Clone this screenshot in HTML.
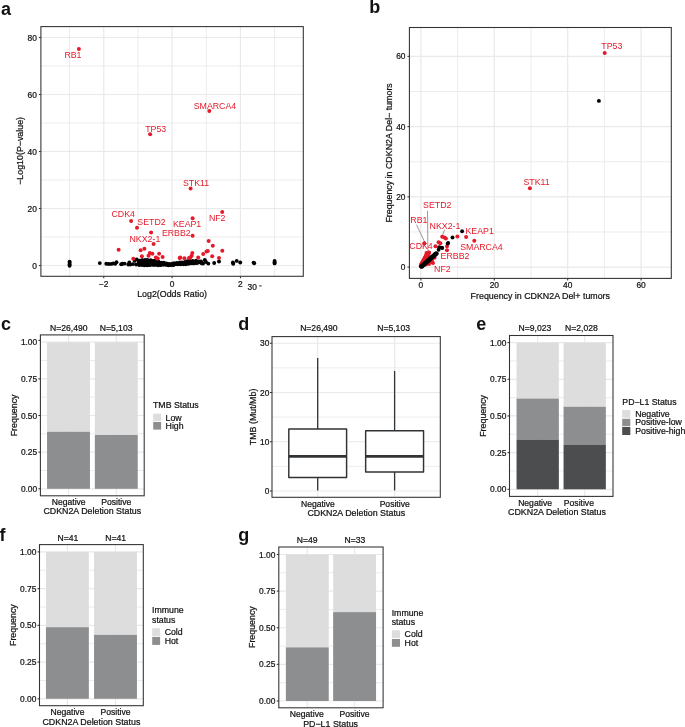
<!DOCTYPE html>
<html><head><meta charset="utf-8"><style>
html,body{margin:0;padding:0;background:#fff;}
svg{display:block;will-change:transform;}
text{font-family:"Liberation Sans",sans-serif;stroke-width:0.22px;paint-order:stroke;}
</style></head><body>
<svg width="685" height="727" viewBox="0 0 685 727">
<defs></defs>
<rect x="0" y="0" width="685" height="727" fill="#fff"/>
<text x="1.00" y="14.50" font-weight="bold" font-size="18" fill="#111">a</text>
<line x1="69.59" y1="26.60" x2="69.59" y2="276.30" stroke="#E9E9E9" stroke-width="0.85"/>
<line x1="137.93" y1="26.60" x2="137.93" y2="276.30" stroke="#E9E9E9" stroke-width="0.85"/>
<line x1="206.27" y1="26.60" x2="206.27" y2="276.30" stroke="#E9E9E9" stroke-width="0.85"/>
<line x1="274.61" y1="26.60" x2="274.61" y2="276.30" stroke="#E9E9E9" stroke-width="0.85"/>
<line x1="40.90" y1="237.00" x2="303.30" y2="237.00" stroke="#E9E9E9" stroke-width="0.85"/>
<line x1="40.90" y1="180.00" x2="303.30" y2="180.00" stroke="#E9E9E9" stroke-width="0.85"/>
<line x1="40.90" y1="123.00" x2="303.30" y2="123.00" stroke="#E9E9E9" stroke-width="0.85"/>
<line x1="40.90" y1="66.00" x2="303.30" y2="66.00" stroke="#E9E9E9" stroke-width="0.85"/>
<line x1="103.76" y1="26.60" x2="103.76" y2="276.30" stroke="#E9E9E9" stroke-width="1.2"/>
<line x1="172.10" y1="26.60" x2="172.10" y2="276.30" stroke="#E9E9E9" stroke-width="1.2"/>
<line x1="240.44" y1="26.60" x2="240.44" y2="276.30" stroke="#E9E9E9" stroke-width="1.2"/>
<line x1="40.90" y1="265.50" x2="303.30" y2="265.50" stroke="#E9E9E9" stroke-width="1.2"/>
<line x1="40.90" y1="208.50" x2="303.30" y2="208.50" stroke="#E9E9E9" stroke-width="1.2"/>
<line x1="40.90" y1="151.50" x2="303.30" y2="151.50" stroke="#E9E9E9" stroke-width="1.2"/>
<line x1="40.90" y1="94.50" x2="303.30" y2="94.50" stroke="#E9E9E9" stroke-width="1.2"/>
<line x1="40.90" y1="37.50" x2="303.30" y2="37.50" stroke="#E9E9E9" stroke-width="1.2"/>
<circle cx="69.60" cy="261.60" r="1.95" fill="#000"/>
<circle cx="69.60" cy="263.00" r="1.95" fill="#000"/>
<circle cx="69.60" cy="264.40" r="1.95" fill="#000"/>
<circle cx="69.60" cy="265.80" r="1.95" fill="#000"/>
<circle cx="274.60" cy="261.00" r="1.95" fill="#000"/>
<circle cx="274.60" cy="262.30" r="1.95" fill="#000"/>
<circle cx="274.60" cy="263.40" r="1.95" fill="#000"/>
<circle cx="99.80" cy="263.10" r="1.95" fill="#000"/>
<circle cx="106.30" cy="263.70" r="1.95" fill="#000"/>
<circle cx="108.80" cy="264.00" r="1.95" fill="#000"/>
<circle cx="111.30" cy="263.90" r="1.95" fill="#000"/>
<circle cx="113.40" cy="263.40" r="1.95" fill="#000"/>
<circle cx="204.80" cy="259.90" r="1.95" fill="#000"/>
<circle cx="206.00" cy="262.00" r="1.95" fill="#000"/>
<circle cx="208.30" cy="263.60" r="1.95" fill="#000"/>
<circle cx="214.20" cy="263.00" r="1.95" fill="#000"/>
<circle cx="219.00" cy="261.50" r="1.95" fill="#000"/>
<circle cx="232.90" cy="262.50" r="1.95" fill="#000"/>
<circle cx="233.20" cy="263.70" r="1.95" fill="#000"/>
<circle cx="236.70" cy="260.90" r="1.95" fill="#000"/>
<circle cx="240.20" cy="262.50" r="1.95" fill="#000"/>
<circle cx="253.60" cy="262.60" r="1.95" fill="#000"/>
<circle cx="254.20" cy="263.20" r="1.95" fill="#000"/>
<circle cx="138.89" cy="261.64" r="1.95" fill="#000"/>
<circle cx="139.09" cy="262.79" r="1.95" fill="#000"/>
<circle cx="139.02" cy="264.17" r="1.95" fill="#000"/>
<circle cx="139.83" cy="261.25" r="1.95" fill="#000"/>
<circle cx="139.82" cy="262.76" r="1.95" fill="#000"/>
<circle cx="139.84" cy="264.11" r="1.95" fill="#000"/>
<circle cx="141.15" cy="260.96" r="1.95" fill="#000"/>
<circle cx="140.97" cy="261.82" r="1.95" fill="#000"/>
<circle cx="141.28" cy="263.49" r="1.95" fill="#000"/>
<circle cx="141.25" cy="264.39" r="1.95" fill="#000"/>
<circle cx="142.59" cy="260.54" r="1.95" fill="#000"/>
<circle cx="142.52" cy="261.90" r="1.95" fill="#000"/>
<circle cx="142.09" cy="263.01" r="1.95" fill="#000"/>
<circle cx="142.19" cy="264.64" r="1.95" fill="#000"/>
<circle cx="143.21" cy="260.91" r="1.95" fill="#000"/>
<circle cx="143.48" cy="261.98" r="1.95" fill="#000"/>
<circle cx="143.43" cy="262.99" r="1.95" fill="#000"/>
<circle cx="143.14" cy="264.27" r="1.95" fill="#000"/>
<circle cx="144.61" cy="260.86" r="1.95" fill="#000"/>
<circle cx="144.39" cy="262.14" r="1.95" fill="#000"/>
<circle cx="144.47" cy="263.15" r="1.95" fill="#000"/>
<circle cx="144.68" cy="264.57" r="1.95" fill="#000"/>
<circle cx="145.45" cy="261.00" r="1.95" fill="#000"/>
<circle cx="145.62" cy="262.93" r="1.95" fill="#000"/>
<circle cx="145.74" cy="264.32" r="1.95" fill="#000"/>
<circle cx="146.99" cy="260.77" r="1.95" fill="#000"/>
<circle cx="146.65" cy="262.88" r="1.95" fill="#000"/>
<circle cx="146.49" cy="264.44" r="1.95" fill="#000"/>
<circle cx="147.52" cy="261.15" r="1.95" fill="#000"/>
<circle cx="147.96" cy="262.79" r="1.95" fill="#000"/>
<circle cx="148.03" cy="264.34" r="1.95" fill="#000"/>
<circle cx="149.02" cy="261.16" r="1.95" fill="#000"/>
<circle cx="148.95" cy="262.75" r="1.95" fill="#000"/>
<circle cx="149.10" cy="264.72" r="1.95" fill="#000"/>
<circle cx="149.98" cy="261.25" r="1.95" fill="#000"/>
<circle cx="149.74" cy="262.92" r="1.95" fill="#000"/>
<circle cx="150.09" cy="264.75" r="1.95" fill="#000"/>
<circle cx="151.29" cy="261.26" r="1.95" fill="#000"/>
<circle cx="151.03" cy="263.01" r="1.95" fill="#000"/>
<circle cx="150.81" cy="264.41" r="1.95" fill="#000"/>
<circle cx="152.00" cy="261.40" r="1.95" fill="#000"/>
<circle cx="151.94" cy="263.18" r="1.95" fill="#000"/>
<circle cx="151.98" cy="264.25" r="1.95" fill="#000"/>
<circle cx="153.23" cy="262.10" r="1.95" fill="#000"/>
<circle cx="153.05" cy="263.10" r="1.95" fill="#000"/>
<circle cx="153.33" cy="264.61" r="1.95" fill="#000"/>
<circle cx="154.59" cy="262.34" r="1.95" fill="#000"/>
<circle cx="154.27" cy="263.19" r="1.95" fill="#000"/>
<circle cx="154.32" cy="264.59" r="1.95" fill="#000"/>
<circle cx="155.77" cy="262.14" r="1.95" fill="#000"/>
<circle cx="155.31" cy="264.18" r="1.95" fill="#000"/>
<circle cx="156.44" cy="262.56" r="1.95" fill="#000"/>
<circle cx="156.65" cy="264.18" r="1.95" fill="#000"/>
<circle cx="157.40" cy="262.74" r="1.95" fill="#000"/>
<circle cx="157.62" cy="264.34" r="1.95" fill="#000"/>
<circle cx="159.07" cy="263.12" r="1.95" fill="#000"/>
<circle cx="158.81" cy="264.34" r="1.95" fill="#000"/>
<circle cx="160.01" cy="262.96" r="1.95" fill="#000"/>
<circle cx="160.14" cy="264.42" r="1.95" fill="#000"/>
<circle cx="161.22" cy="263.63" r="1.95" fill="#000"/>
<circle cx="160.94" cy="264.17" r="1.95" fill="#000"/>
<circle cx="161.86" cy="264.02" r="1.95" fill="#000"/>
<circle cx="162.94" cy="263.78" r="1.95" fill="#000"/>
<circle cx="164.13" cy="263.93" r="1.95" fill="#000"/>
<circle cx="165.30" cy="264.06" r="1.95" fill="#000"/>
<circle cx="166.20" cy="264.34" r="1.95" fill="#000"/>
<circle cx="167.36" cy="264.69" r="1.95" fill="#000"/>
<circle cx="168.42" cy="265.21" r="1.95" fill="#000"/>
<circle cx="169.87" cy="265.00" r="1.95" fill="#000"/>
<circle cx="170.75" cy="265.00" r="1.95" fill="#000"/>
<circle cx="171.92" cy="264.66" r="1.95" fill="#000"/>
<circle cx="173.31" cy="264.99" r="1.95" fill="#000"/>
<circle cx="174.18" cy="264.48" r="1.95" fill="#000"/>
<circle cx="175.05" cy="264.05" r="1.95" fill="#000"/>
<circle cx="176.31" cy="263.93" r="1.95" fill="#000"/>
<circle cx="177.70" cy="263.65" r="1.95" fill="#000"/>
<circle cx="178.31" cy="263.90" r="1.95" fill="#000"/>
<circle cx="179.72" cy="263.20" r="1.95" fill="#000"/>
<circle cx="180.83" cy="263.01" r="1.95" fill="#000"/>
<circle cx="181.92" cy="263.50" r="1.95" fill="#000"/>
<circle cx="183.22" cy="263.26" r="1.95" fill="#000"/>
<circle cx="183.96" cy="262.98" r="1.95" fill="#000"/>
<circle cx="185.00" cy="263.15" r="1.95" fill="#000"/>
<circle cx="186.32" cy="263.06" r="1.95" fill="#000"/>
<circle cx="187.30" cy="262.64" r="1.95" fill="#000"/>
<circle cx="188.69" cy="263.01" r="1.95" fill="#000"/>
<circle cx="189.81" cy="262.82" r="1.95" fill="#000"/>
<circle cx="190.89" cy="262.67" r="1.95" fill="#000"/>
<circle cx="191.64" cy="262.43" r="1.95" fill="#000"/>
<circle cx="192.81" cy="262.03" r="1.95" fill="#000"/>
<circle cx="193.72" cy="262.07" r="1.95" fill="#000"/>
<circle cx="194.96" cy="262.22" r="1.95" fill="#000"/>
<circle cx="196.47" cy="262.07" r="1.95" fill="#000"/>
<circle cx="197.56" cy="262.39" r="1.95" fill="#000"/>
<circle cx="198.67" cy="262.04" r="1.95" fill="#000"/>
<circle cx="199.33" cy="262.05" r="1.95" fill="#000"/>
<circle cx="200.42" cy="262.35" r="1.95" fill="#000"/>
<circle cx="201.77" cy="263.28" r="1.95" fill="#000"/>
<circle cx="203.00" cy="263.54" r="1.95" fill="#000"/>
<circle cx="139.65" cy="260.81" r="1.95" fill="#000"/>
<circle cx="141.95" cy="260.11" r="1.95" fill="#000"/>
<circle cx="145.02" cy="259.90" r="1.95" fill="#000"/>
<circle cx="147.43" cy="259.89" r="1.95" fill="#000"/>
<circle cx="150.62" cy="260.10" r="1.95" fill="#000"/>
<circle cx="153.19" cy="260.93" r="1.95" fill="#000"/>
<circle cx="154.74" cy="260.99" r="1.95" fill="#000"/>
<circle cx="158.53" cy="261.61" r="1.95" fill="#000"/>
<circle cx="161.73" cy="262.63" r="1.95" fill="#000"/>
<circle cx="163.85" cy="262.71" r="1.95" fill="#000"/>
<circle cx="166.48" cy="263.57" r="1.95" fill="#000"/>
<circle cx="169.17" cy="263.95" r="1.95" fill="#000"/>
<circle cx="172.14" cy="263.69" r="1.95" fill="#000"/>
<circle cx="174.06" cy="263.27" r="1.95" fill="#000"/>
<circle cx="176.81" cy="262.88" r="1.95" fill="#000"/>
<circle cx="179.79" cy="262.36" r="1.95" fill="#000"/>
<circle cx="182.12" cy="262.47" r="1.95" fill="#000"/>
<circle cx="185.08" cy="261.89" r="1.95" fill="#000"/>
<circle cx="187.42" cy="261.23" r="1.95" fill="#000"/>
<circle cx="189.72" cy="260.95" r="1.95" fill="#000"/>
<circle cx="192.70" cy="261.03" r="1.95" fill="#000"/>
<circle cx="196.01" cy="260.79" r="1.95" fill="#000"/>
<circle cx="198.73" cy="261.37" r="1.95" fill="#000"/>
<circle cx="201.04" cy="261.51" r="1.95" fill="#000"/>
<circle cx="139.27" cy="264.99" r="1.95" fill="#000"/>
<circle cx="142.02" cy="264.91" r="1.95" fill="#000"/>
<circle cx="144.52" cy="265.20" r="1.95" fill="#000"/>
<circle cx="147.31" cy="265.23" r="1.95" fill="#000"/>
<circle cx="149.83" cy="264.89" r="1.95" fill="#000"/>
<circle cx="153.13" cy="264.84" r="1.95" fill="#000"/>
<circle cx="155.27" cy="264.79" r="1.95" fill="#000"/>
<circle cx="157.89" cy="265.30" r="1.95" fill="#000"/>
<circle cx="160.46" cy="265.16" r="1.95" fill="#000"/>
<circle cx="163.33" cy="264.74" r="1.95" fill="#000"/>
<circle cx="165.92" cy="264.70" r="1.95" fill="#000"/>
<circle cx="168.76" cy="264.47" r="1.95" fill="#000"/>
<circle cx="172.01" cy="264.25" r="1.95" fill="#000"/>
<circle cx="174.87" cy="264.06" r="1.95" fill="#000"/>
<circle cx="177.58" cy="264.27" r="1.95" fill="#000"/>
<circle cx="180.47" cy="264.29" r="1.95" fill="#000"/>
<circle cx="183.38" cy="264.31" r="1.95" fill="#000"/>
<circle cx="185.85" cy="264.18" r="1.95" fill="#000"/>
<circle cx="188.56" cy="263.69" r="1.95" fill="#000"/>
<circle cx="191.19" cy="263.33" r="1.95" fill="#000"/>
<circle cx="193.48" cy="263.38" r="1.95" fill="#000"/>
<circle cx="196.39" cy="263.17" r="1.95" fill="#000"/>
<circle cx="198.37" cy="262.54" r="1.95" fill="#000"/>
<circle cx="201.22" cy="262.56" r="1.95" fill="#000"/>
<circle cx="115.20" cy="263.80" r="1.95" fill="#000"/>
<circle cx="116.50" cy="262.20" r="1.95" fill="#000"/>
<circle cx="121.20" cy="264.30" r="1.95" fill="#000"/>
<circle cx="122.50" cy="263.80" r="1.95" fill="#000"/>
<circle cx="124.60" cy="263.60" r="1.95" fill="#000"/>
<circle cx="128.30" cy="264.60" r="1.95" fill="#000"/>
<circle cx="129.30" cy="262.50" r="1.95" fill="#000"/>
<circle cx="130.40" cy="264.60" r="1.95" fill="#000"/>
<circle cx="133.00" cy="264.10" r="1.95" fill="#000"/>
<circle cx="134.60" cy="260.90" r="1.95" fill="#000"/>
<circle cx="136.70" cy="259.40" r="1.95" fill="#000"/>
<circle cx="136.20" cy="264.60" r="1.95" fill="#000"/>
<circle cx="138.30" cy="264.10" r="1.95" fill="#000"/>
<circle cx="78.90" cy="48.90" r="2.0" fill="#E41A2B"/>
<circle cx="150.10" cy="134.20" r="2.0" fill="#E41A2B"/>
<circle cx="209.30" cy="110.90" r="2.0" fill="#E41A2B"/>
<circle cx="190.60" cy="188.40" r="2.0" fill="#E41A2B"/>
<circle cx="131.10" cy="221.10" r="2.0" fill="#E41A2B"/>
<circle cx="137.00" cy="227.80" r="2.0" fill="#E41A2B"/>
<circle cx="151.10" cy="232.50" r="2.0" fill="#E41A2B"/>
<circle cx="153.60" cy="244.10" r="2.0" fill="#E41A2B"/>
<circle cx="192.60" cy="218.20" r="2.0" fill="#E41A2B"/>
<circle cx="192.60" cy="235.80" r="2.0" fill="#E41A2B"/>
<circle cx="222.20" cy="212.10" r="2.0" fill="#E41A2B"/>
<circle cx="118.60" cy="249.80" r="2.0" fill="#E41A2B"/>
<circle cx="133.30" cy="258.70" r="2.0" fill="#E41A2B"/>
<circle cx="140.60" cy="250.30" r="2.0" fill="#E41A2B"/>
<circle cx="144.40" cy="248.80" r="2.0" fill="#E41A2B"/>
<circle cx="141.90" cy="256.20" r="2.0" fill="#E41A2B"/>
<circle cx="149.80" cy="253.10" r="2.0" fill="#E41A2B"/>
<circle cx="152.40" cy="253.70" r="2.0" fill="#E41A2B"/>
<circle cx="148.50" cy="255.80" r="2.0" fill="#E41A2B"/>
<circle cx="155.90" cy="257.50" r="2.0" fill="#E41A2B"/>
<circle cx="157.80" cy="258.40" r="2.0" fill="#E41A2B"/>
<circle cx="159.10" cy="253.70" r="2.0" fill="#E41A2B"/>
<circle cx="162.60" cy="257.10" r="2.0" fill="#E41A2B"/>
<circle cx="179.60" cy="258.00" r="2.0" fill="#E41A2B"/>
<circle cx="180.30" cy="257.50" r="2.0" fill="#E41A2B"/>
<circle cx="184.40" cy="258.20" r="2.0" fill="#E41A2B"/>
<circle cx="189.00" cy="258.00" r="2.0" fill="#E41A2B"/>
<circle cx="190.30" cy="257.50" r="2.0" fill="#E41A2B"/>
<circle cx="191.60" cy="255.80" r="2.0" fill="#E41A2B"/>
<circle cx="192.30" cy="253.00" r="2.0" fill="#E41A2B"/>
<circle cx="198.20" cy="257.50" r="2.0" fill="#E41A2B"/>
<circle cx="203.20" cy="254.00" r="2.0" fill="#E41A2B"/>
<circle cx="206.50" cy="251.40" r="2.0" fill="#E41A2B"/>
<circle cx="207.80" cy="251.00" r="2.0" fill="#E41A2B"/>
<circle cx="208.70" cy="241.00" r="2.0" fill="#E41A2B"/>
<circle cx="212.80" cy="245.70" r="2.0" fill="#E41A2B"/>
<circle cx="212.20" cy="256.20" r="2.0" fill="#E41A2B"/>
<circle cx="219.00" cy="258.10" r="2.0" fill="#E41A2B"/>
<circle cx="222.30" cy="250.70" r="2.0" fill="#E41A2B"/>
<text x="64.40" y="57.70" font-size="8.8" fill="#E41A2B">RB1</text>
<text x="145.20" y="132.10" font-size="8.8" fill="#E41A2B">TP53</text>
<text x="193.70" y="108.50" font-size="8.8" fill="#E41A2B">SMARCA4</text>
<text x="182.90" y="186.30" font-size="8.8" fill="#E41A2B">STK11</text>
<text x="111.50" y="217.10" font-size="8.8" fill="#E41A2B">CDK4</text>
<text x="137.30" y="225.30" font-size="8.8" fill="#E41A2B">SETD2</text>
<text x="129.50" y="241.60" font-size="8.8" fill="#E41A2B">NKX2-1</text>
<text x="172.90" y="226.70" font-size="8.8" fill="#E41A2B">KEAP1</text>
<text x="161.90" y="235.50" font-size="8.8" fill="#E41A2B">ERBB2</text>
<text x="208.90" y="220.50" font-size="8.8" fill="#E41A2B">NF2</text>
<rect x="40.90" y="26.60" width="262.40" height="249.70" fill="none" stroke="#333333" stroke-width="1.07"/>
<line x1="38.90" y1="265.50" x2="40.90" y2="265.50" stroke="#333333" stroke-width="1.07"/>
<text x="36.90" y="268.50" text-anchor="end" font-size="8.4" fill="#111111" stroke="#111111">0</text>
<line x1="38.90" y1="208.50" x2="40.90" y2="208.50" stroke="#333333" stroke-width="1.07"/>
<text x="36.90" y="211.50" text-anchor="end" font-size="8.4" fill="#111111" stroke="#111111">20</text>
<line x1="38.90" y1="151.50" x2="40.90" y2="151.50" stroke="#333333" stroke-width="1.07"/>
<text x="36.90" y="154.50" text-anchor="end" font-size="8.4" fill="#111111" stroke="#111111">40</text>
<line x1="38.90" y1="94.50" x2="40.90" y2="94.50" stroke="#333333" stroke-width="1.07"/>
<text x="36.90" y="97.50" text-anchor="end" font-size="8.4" fill="#111111" stroke="#111111">60</text>
<line x1="38.90" y1="37.50" x2="40.90" y2="37.50" stroke="#333333" stroke-width="1.07"/>
<text x="36.90" y="40.50" text-anchor="end" font-size="8.4" fill="#111111" stroke="#111111">80</text>
<line x1="103.76" y1="276.30" x2="103.76" y2="278.30" stroke="#333333" stroke-width="1.07"/>
<text x="103.76" y="287.20" text-anchor="middle" font-size="8.4" fill="#111111" stroke="#111111">−2</text>
<line x1="172.10" y1="276.30" x2="172.10" y2="278.30" stroke="#333333" stroke-width="1.07"/>
<text x="172.10" y="287.20" text-anchor="middle" font-size="8.4" fill="#111111" stroke="#111111">0</text>
<line x1="240.44" y1="276.30" x2="240.44" y2="278.30" stroke="#333333" stroke-width="1.07"/>
<text x="240.44" y="287.20" text-anchor="middle" font-size="8.4" fill="#111111" stroke="#111111">2</text>
<text x="172.10" y="297.40" text-anchor="middle" font-size="8.85" fill="#111111" stroke="#111111">Log2(Odds Ratio)</text>
<text x="22.80" y="150.90" text-anchor="middle" transform="rotate(-90 22.80 150.90)" font-size="8.85" fill="#111111" stroke="#111111">−Log10(P−value)</text>
<text x="247.60" y="289.60" font-size="8.4" fill="#111111" stroke="#111111">30</text>
<line x1="259.20" y1="285.90" x2="261.60" y2="285.90" stroke="#333333" stroke-width="1.07"/>
<text x="369.20" y="12.85" font-weight="bold" font-size="18" fill="#111">b</text>
<line x1="457.60" y1="27.50" x2="457.60" y2="278.40" stroke="#E9E9E9" stroke-width="0.85"/>
<line x1="409.40" y1="231.98" x2="671.30" y2="231.98" stroke="#E9E9E9" stroke-width="0.85"/>
<line x1="531.00" y1="27.50" x2="531.00" y2="278.40" stroke="#E9E9E9" stroke-width="0.85"/>
<line x1="409.40" y1="161.73" x2="671.30" y2="161.73" stroke="#E9E9E9" stroke-width="0.85"/>
<line x1="604.40" y1="27.50" x2="604.40" y2="278.40" stroke="#E9E9E9" stroke-width="0.85"/>
<line x1="409.40" y1="91.48" x2="671.30" y2="91.48" stroke="#E9E9E9" stroke-width="0.85"/>
<line x1="420.90" y1="27.50" x2="420.90" y2="278.40" stroke="#E9E9E9" stroke-width="1.2"/>
<line x1="409.40" y1="267.10" x2="671.30" y2="267.10" stroke="#E9E9E9" stroke-width="1.2"/>
<line x1="494.30" y1="27.50" x2="494.30" y2="278.40" stroke="#E9E9E9" stroke-width="1.2"/>
<line x1="409.40" y1="196.85" x2="671.30" y2="196.85" stroke="#E9E9E9" stroke-width="1.2"/>
<line x1="567.70" y1="27.50" x2="567.70" y2="278.40" stroke="#E9E9E9" stroke-width="1.2"/>
<line x1="409.40" y1="126.60" x2="671.30" y2="126.60" stroke="#E9E9E9" stroke-width="1.2"/>
<line x1="641.10" y1="27.50" x2="641.10" y2="278.40" stroke="#E9E9E9" stroke-width="1.2"/>
<line x1="409.40" y1="56.35" x2="671.30" y2="56.35" stroke="#E9E9E9" stroke-width="1.2"/>
<line x1="416.50" y1="224.70" x2="425.00" y2="242.70" stroke="#555" stroke-width="0.6"/>
<line x1="427.50" y1="210.80" x2="427.90" y2="251.80" stroke="#555" stroke-width="0.6"/>
<line x1="444.60" y1="229.60" x2="442.50" y2="235.20" stroke="#555" stroke-width="0.6"/>
<circle cx="604.70" cy="53.10" r="2.0" fill="#E41A2B"/>
<circle cx="529.90" cy="188.20" r="2.0" fill="#E41A2B"/>
<circle cx="457.40" cy="236.60" r="2.0" fill="#E41A2B"/>
<circle cx="466.10" cy="236.90" r="2.0" fill="#E41A2B"/>
<circle cx="474.30" cy="240.80" r="2.0" fill="#E41A2B"/>
<circle cx="442.20" cy="236.70" r="2.0" fill="#E41A2B"/>
<circle cx="445.90" cy="238.50" r="2.0" fill="#E41A2B"/>
<circle cx="444.50" cy="237.50" r="2.0" fill="#E41A2B"/>
<circle cx="438.60" cy="242.20" r="2.0" fill="#E41A2B"/>
<circle cx="440.40" cy="243.20" r="2.0" fill="#E41A2B"/>
<circle cx="435.50" cy="246.20" r="2.0" fill="#E41A2B"/>
<circle cx="447.00" cy="246.20" r="2.0" fill="#E41A2B"/>
<circle cx="447.00" cy="250.20" r="2.0" fill="#E41A2B"/>
<circle cx="424.30" cy="243.20" r="2.0" fill="#E41A2B"/>
<circle cx="430.50" cy="262.20" r="2.0" fill="#E41A2B"/>
<circle cx="434.60" cy="257.80" r="2.0" fill="#E41A2B"/>
<circle cx="420.90" cy="265.20" r="2.0" fill="#E41A2B"/>
<circle cx="422.40" cy="264.10" r="2.0" fill="#E41A2B"/>
<circle cx="421.16" cy="264.73" r="2.0" fill="#E41A2B"/>
<circle cx="422.66" cy="263.63" r="2.0" fill="#E41A2B"/>
<circle cx="421.42" cy="264.26" r="2.0" fill="#E41A2B"/>
<circle cx="422.92" cy="263.16" r="2.0" fill="#E41A2B"/>
<circle cx="421.68" cy="263.80" r="2.0" fill="#E41A2B"/>
<circle cx="423.18" cy="262.70" r="2.0" fill="#E41A2B"/>
<circle cx="421.94" cy="263.33" r="2.0" fill="#E41A2B"/>
<circle cx="423.44" cy="262.23" r="2.0" fill="#E41A2B"/>
<circle cx="422.20" cy="262.86" r="2.0" fill="#E41A2B"/>
<circle cx="423.70" cy="261.76" r="2.0" fill="#E41A2B"/>
<circle cx="422.46" cy="262.39" r="2.0" fill="#E41A2B"/>
<circle cx="423.96" cy="261.29" r="2.0" fill="#E41A2B"/>
<circle cx="422.72" cy="261.92" r="2.0" fill="#E41A2B"/>
<circle cx="424.22" cy="260.82" r="2.0" fill="#E41A2B"/>
<circle cx="422.98" cy="261.46" r="2.0" fill="#E41A2B"/>
<circle cx="424.48" cy="260.36" r="2.0" fill="#E41A2B"/>
<circle cx="423.24" cy="260.99" r="2.0" fill="#E41A2B"/>
<circle cx="424.74" cy="259.89" r="2.0" fill="#E41A2B"/>
<circle cx="423.50" cy="260.52" r="2.0" fill="#E41A2B"/>
<circle cx="425.00" cy="259.42" r="2.0" fill="#E41A2B"/>
<circle cx="423.76" cy="260.05" r="2.0" fill="#E41A2B"/>
<circle cx="425.26" cy="258.95" r="2.0" fill="#E41A2B"/>
<circle cx="424.02" cy="259.58" r="2.0" fill="#E41A2B"/>
<circle cx="425.52" cy="258.48" r="2.0" fill="#E41A2B"/>
<circle cx="424.28" cy="259.12" r="2.0" fill="#E41A2B"/>
<circle cx="425.78" cy="258.02" r="2.0" fill="#E41A2B"/>
<circle cx="424.54" cy="258.65" r="2.0" fill="#E41A2B"/>
<circle cx="426.04" cy="257.55" r="2.0" fill="#E41A2B"/>
<circle cx="424.80" cy="258.18" r="2.0" fill="#E41A2B"/>
<circle cx="426.30" cy="257.08" r="2.0" fill="#E41A2B"/>
<circle cx="425.06" cy="257.71" r="2.0" fill="#E41A2B"/>
<circle cx="426.56" cy="256.61" r="2.0" fill="#E41A2B"/>
<circle cx="425.32" cy="257.24" r="2.0" fill="#E41A2B"/>
<circle cx="426.82" cy="256.14" r="2.0" fill="#E41A2B"/>
<circle cx="425.58" cy="256.78" r="2.0" fill="#E41A2B"/>
<circle cx="427.08" cy="255.68" r="2.0" fill="#E41A2B"/>
<circle cx="425.84" cy="256.31" r="2.0" fill="#E41A2B"/>
<circle cx="427.34" cy="255.21" r="2.0" fill="#E41A2B"/>
<circle cx="426.10" cy="255.84" r="2.0" fill="#E41A2B"/>
<circle cx="427.60" cy="254.74" r="2.0" fill="#E41A2B"/>
<circle cx="426.36" cy="255.37" r="2.0" fill="#E41A2B"/>
<circle cx="427.86" cy="254.27" r="2.0" fill="#E41A2B"/>
<circle cx="426.62" cy="254.90" r="2.0" fill="#E41A2B"/>
<circle cx="428.12" cy="253.80" r="2.0" fill="#E41A2B"/>
<circle cx="426.88" cy="254.44" r="2.0" fill="#E41A2B"/>
<circle cx="428.38" cy="253.34" r="2.0" fill="#E41A2B"/>
<circle cx="427.14" cy="253.97" r="2.0" fill="#E41A2B"/>
<circle cx="428.64" cy="252.87" r="2.0" fill="#E41A2B"/>
<circle cx="427.40" cy="253.50" r="2.0" fill="#E41A2B"/>
<circle cx="428.90" cy="252.40" r="2.0" fill="#E41A2B"/>
<circle cx="426.50" cy="253.00" r="2.0" fill="#E41A2B"/>
<circle cx="429.00" cy="252.80" r="2.0" fill="#E41A2B"/>
<circle cx="428.50" cy="255.50" r="2.0" fill="#E41A2B"/>
<circle cx="432.00" cy="260.50" r="2.0" fill="#E41A2B"/>
<circle cx="433.00" cy="263.00" r="2.0" fill="#E41A2B"/>
<circle cx="429.00" cy="264.00" r="2.0" fill="#E41A2B"/>
<circle cx="426.00" cy="264.50" r="2.0" fill="#E41A2B"/>
<circle cx="598.90" cy="100.90" r="1.95" fill="#000"/>
<circle cx="462.10" cy="231.30" r="1.95" fill="#000"/>
<circle cx="452.50" cy="237.50" r="1.95" fill="#000"/>
<circle cx="448.10" cy="242.90" r="1.95" fill="#000"/>
<circle cx="447.70" cy="243.60" r="1.95" fill="#000"/>
<circle cx="442.20" cy="248.00" r="1.95" fill="#000"/>
<circle cx="439.30" cy="247.30" r="1.95" fill="#000"/>
<circle cx="438.60" cy="249.80" r="1.95" fill="#000"/>
<circle cx="441.90" cy="247.60" r="1.95" fill="#000"/>
<circle cx="420.90" cy="266.60" r="1.95" fill="#000"/>
<circle cx="421.70" cy="266.90" r="1.95" fill="#000"/>
<circle cx="421.62" cy="265.96" r="1.95" fill="#000"/>
<circle cx="422.42" cy="266.26" r="1.95" fill="#000"/>
<circle cx="422.34" cy="265.32" r="1.95" fill="#000"/>
<circle cx="423.14" cy="265.62" r="1.95" fill="#000"/>
<circle cx="423.06" cy="264.69" r="1.95" fill="#000"/>
<circle cx="423.86" cy="264.99" r="1.95" fill="#000"/>
<circle cx="423.78" cy="264.05" r="1.95" fill="#000"/>
<circle cx="424.58" cy="264.35" r="1.95" fill="#000"/>
<circle cx="424.50" cy="263.41" r="1.95" fill="#000"/>
<circle cx="425.30" cy="263.71" r="1.95" fill="#000"/>
<circle cx="425.21" cy="262.77" r="1.95" fill="#000"/>
<circle cx="426.01" cy="263.07" r="1.95" fill="#000"/>
<circle cx="425.93" cy="262.13" r="1.95" fill="#000"/>
<circle cx="426.73" cy="262.43" r="1.95" fill="#000"/>
<circle cx="426.65" cy="261.50" r="1.95" fill="#000"/>
<circle cx="427.45" cy="261.80" r="1.95" fill="#000"/>
<circle cx="427.37" cy="260.86" r="1.95" fill="#000"/>
<circle cx="428.17" cy="261.16" r="1.95" fill="#000"/>
<circle cx="428.09" cy="260.22" r="1.95" fill="#000"/>
<circle cx="428.89" cy="260.52" r="1.95" fill="#000"/>
<circle cx="428.81" cy="259.58" r="1.95" fill="#000"/>
<circle cx="429.61" cy="259.88" r="1.95" fill="#000"/>
<circle cx="429.53" cy="258.94" r="1.95" fill="#000"/>
<circle cx="430.33" cy="259.24" r="1.95" fill="#000"/>
<circle cx="430.25" cy="258.30" r="1.95" fill="#000"/>
<circle cx="431.05" cy="258.60" r="1.95" fill="#000"/>
<circle cx="430.97" cy="257.67" r="1.95" fill="#000"/>
<circle cx="431.77" cy="257.97" r="1.95" fill="#000"/>
<circle cx="431.69" cy="257.03" r="1.95" fill="#000"/>
<circle cx="432.49" cy="257.33" r="1.95" fill="#000"/>
<circle cx="432.40" cy="256.39" r="1.95" fill="#000"/>
<circle cx="433.20" cy="256.69" r="1.95" fill="#000"/>
<circle cx="433.12" cy="255.75" r="1.95" fill="#000"/>
<circle cx="433.92" cy="256.05" r="1.95" fill="#000"/>
<circle cx="433.84" cy="255.11" r="1.95" fill="#000"/>
<circle cx="434.64" cy="255.41" r="1.95" fill="#000"/>
<circle cx="434.56" cy="254.48" r="1.95" fill="#000"/>
<circle cx="435.36" cy="254.78" r="1.95" fill="#000"/>
<circle cx="435.28" cy="253.84" r="1.95" fill="#000"/>
<circle cx="436.08" cy="254.14" r="1.95" fill="#000"/>
<circle cx="436.00" cy="253.20" r="1.95" fill="#000"/>
<circle cx="436.80" cy="253.50" r="1.95" fill="#000"/>
<text x="601.30" y="49.30" font-size="8.8" fill="#E41A2B">TP53</text>
<text x="523.40" y="184.50" font-size="8.8" fill="#E41A2B">STK11</text>
<text x="423.10" y="208.40" font-size="8.8" fill="#E41A2B">SETD2</text>
<text x="410.30" y="223.30" font-size="8.8" fill="#E41A2B">RB1</text>
<text x="429.60" y="228.50" font-size="8.8" fill="#E41A2B">NKX2-1</text>
<text x="465.50" y="233.50" font-size="8.8" fill="#E41A2B">KEAP1</text>
<text x="409.30" y="249.10" font-size="8.8" fill="#E41A2B">CDK4</text>
<text x="460.20" y="249.90" font-size="8.8" fill="#E41A2B">SMARCA4</text>
<text x="440.60" y="259.00" font-size="8.8" fill="#E41A2B">ERBB2</text>
<text x="434.10" y="271.70" font-size="8.8" fill="#E41A2B">NF2</text>
<rect x="409.40" y="27.50" width="261.90" height="250.90" fill="none" stroke="#333333" stroke-width="1.07"/>
<line x1="407.40" y1="267.10" x2="409.40" y2="267.10" stroke="#333333" stroke-width="1.07"/>
<text x="405.50" y="270.10" text-anchor="end" font-size="8.4" fill="#111111" stroke="#111111">0</text>
<line x1="420.90" y1="278.40" x2="420.90" y2="280.40" stroke="#333333" stroke-width="1.07"/>
<text x="420.90" y="288.40" text-anchor="middle" font-size="8.4" fill="#111111" stroke="#111111">0</text>
<line x1="407.40" y1="196.85" x2="409.40" y2="196.85" stroke="#333333" stroke-width="1.07"/>
<text x="405.50" y="199.85" text-anchor="end" font-size="8.4" fill="#111111" stroke="#111111">20</text>
<line x1="494.30" y1="278.40" x2="494.30" y2="280.40" stroke="#333333" stroke-width="1.07"/>
<text x="494.30" y="288.40" text-anchor="middle" font-size="8.4" fill="#111111" stroke="#111111">20</text>
<line x1="407.40" y1="126.60" x2="409.40" y2="126.60" stroke="#333333" stroke-width="1.07"/>
<text x="405.50" y="129.60" text-anchor="end" font-size="8.4" fill="#111111" stroke="#111111">40</text>
<line x1="567.70" y1="278.40" x2="567.70" y2="280.40" stroke="#333333" stroke-width="1.07"/>
<text x="567.70" y="288.40" text-anchor="middle" font-size="8.4" fill="#111111" stroke="#111111">40</text>
<line x1="407.40" y1="56.35" x2="409.40" y2="56.35" stroke="#333333" stroke-width="1.07"/>
<text x="405.50" y="59.35" text-anchor="end" font-size="8.4" fill="#111111" stroke="#111111">60</text>
<line x1="641.10" y1="278.40" x2="641.10" y2="280.40" stroke="#333333" stroke-width="1.07"/>
<text x="641.10" y="288.40" text-anchor="middle" font-size="8.4" fill="#111111" stroke="#111111">60</text>
<text x="540.30" y="298.50" text-anchor="middle" font-size="8.85" fill="#111111" stroke="#111111">Frequency in CDKN2A Del+ tumors</text>
<text x="391.60" y="152.90" text-anchor="middle" transform="rotate(-90 391.60 152.90)" font-size="8.85" fill="#111111" stroke="#111111">Frequency in CDKN2A Del− tumors</text>
<text x="0.90" y="329.80" font-weight="bold" font-size="18" fill="#111">c</text>
<line x1="40.40" y1="470.48" x2="144.20" y2="470.48" stroke="#E9E9E9" stroke-width="0.85"/>
<line x1="40.40" y1="433.82" x2="144.20" y2="433.82" stroke="#E9E9E9" stroke-width="0.85"/>
<line x1="40.40" y1="397.18" x2="144.20" y2="397.18" stroke="#E9E9E9" stroke-width="0.85"/>
<line x1="40.40" y1="360.52" x2="144.20" y2="360.52" stroke="#E9E9E9" stroke-width="0.85"/>
<line x1="40.40" y1="488.80" x2="144.20" y2="488.80" stroke="#E9E9E9" stroke-width="1.2"/>
<line x1="40.40" y1="452.15" x2="144.20" y2="452.15" stroke="#E9E9E9" stroke-width="1.2"/>
<line x1="40.40" y1="415.50" x2="144.20" y2="415.50" stroke="#E9E9E9" stroke-width="1.2"/>
<line x1="40.40" y1="378.85" x2="144.20" y2="378.85" stroke="#E9E9E9" stroke-width="1.2"/>
<line x1="40.40" y1="342.20" x2="144.20" y2="342.20" stroke="#E9E9E9" stroke-width="1.2"/>
<line x1="68.50" y1="334.90" x2="68.50" y2="495.80" stroke="#E9E9E9" stroke-width="1.2"/>
<line x1="116.30" y1="334.90" x2="116.30" y2="495.80" stroke="#E9E9E9" stroke-width="1.2"/>
<rect x="47.05" y="431.48" width="42.90" height="57.32" fill="#8D8E90"/>
<rect x="47.05" y="342.20" width="42.90" height="89.28" fill="#DDDDDD"/>
<rect x="94.85" y="434.70" width="42.90" height="54.10" fill="#8D8E90"/>
<rect x="94.85" y="342.20" width="42.90" height="92.50" fill="#DDDDDD"/>
<rect x="40.40" y="334.90" width="103.80" height="160.90" fill="none" stroke="#333333" stroke-width="1.07"/>
<line x1="38.40" y1="488.80" x2="40.40" y2="488.80" stroke="#333333" stroke-width="1.07"/>
<text x="37.20" y="491.80" text-anchor="end" font-size="8.4" fill="#111111" stroke="#111111">0.00</text>
<line x1="38.40" y1="452.15" x2="40.40" y2="452.15" stroke="#333333" stroke-width="1.07"/>
<text x="37.20" y="455.15" text-anchor="end" font-size="8.4" fill="#111111" stroke="#111111">0.25</text>
<line x1="38.40" y1="415.50" x2="40.40" y2="415.50" stroke="#333333" stroke-width="1.07"/>
<text x="37.20" y="418.50" text-anchor="end" font-size="8.4" fill="#111111" stroke="#111111">0.50</text>
<line x1="38.40" y1="378.85" x2="40.40" y2="378.85" stroke="#333333" stroke-width="1.07"/>
<text x="37.20" y="381.85" text-anchor="end" font-size="8.4" fill="#111111" stroke="#111111">0.75</text>
<line x1="38.40" y1="340.40" x2="40.40" y2="340.40" stroke="#333333" stroke-width="1.07"/>
<text x="37.20" y="345.20" text-anchor="end" font-size="8.4" fill="#111111" stroke="#111111">1.00</text>
<text x="68.80" y="331.00" text-anchor="middle" font-size="8.6" fill="#111111" stroke="#111111">N=26,490</text>
<text x="116.10" y="331.00" text-anchor="middle" font-size="8.6" fill="#111111" stroke="#111111">N=5,103</text>
<text x="68.70" y="505.20" text-anchor="middle" font-size="8.6" fill="#111111" stroke="#111111">Negative</text>
<text x="116.30" y="505.20" text-anchor="middle" font-size="8.6" fill="#111111" stroke="#111111">Positive</text>
<text x="92.30" y="514.40" text-anchor="middle" font-size="8.85" fill="#111111" stroke="#111111">CDKN2A Deletion Status</text>
<text x="17.50" y="415.40" text-anchor="middle" transform="rotate(-90 17.50 415.40)" font-size="8.85" fill="#111111" stroke="#111111">Frequency</text>
<text x="153.00" y="408.30" font-size="8.75" fill="#111111" stroke="#111111">TMB Status</text>
<rect x="153.20" y="413.70" width="7.90" height="7.50" fill="#DDDDDD"/>
<rect x="153.20" y="422.00" width="7.90" height="7.60" fill="#8D8E90"/>
<text x="165.60" y="420.80" font-size="8.75" fill="#111111" stroke="#111111">Low</text>
<text x="165.60" y="428.90" font-size="8.75" fill="#111111" stroke="#111111">High</text>
<text x="238.20" y="329.90" font-weight="bold" font-size="18" fill="#111">d</text>
<line x1="272.00" y1="466.38" x2="440.30" y2="466.38" stroke="#E9E9E9" stroke-width="0.85"/>
<line x1="272.00" y1="417.12" x2="440.30" y2="417.12" stroke="#E9E9E9" stroke-width="0.85"/>
<line x1="272.00" y1="367.88" x2="440.30" y2="367.88" stroke="#E9E9E9" stroke-width="0.85"/>
<line x1="272.00" y1="491.00" x2="440.30" y2="491.00" stroke="#E9E9E9" stroke-width="1.2"/>
<line x1="272.00" y1="441.75" x2="440.30" y2="441.75" stroke="#E9E9E9" stroke-width="1.2"/>
<line x1="272.00" y1="392.50" x2="440.30" y2="392.50" stroke="#E9E9E9" stroke-width="1.2"/>
<line x1="272.00" y1="343.25" x2="440.30" y2="343.25" stroke="#E9E9E9" stroke-width="1.2"/>
<line x1="317.70" y1="336.60" x2="317.70" y2="497.30" stroke="#E9E9E9" stroke-width="1.2"/>
<line x1="394.70" y1="336.60" x2="394.70" y2="497.30" stroke="#E9E9E9" stroke-width="1.2"/>
<line x1="317.70" y1="357.90" x2="317.70" y2="429.00" stroke="#303335" stroke-width="1.3"/>
<line x1="317.70" y1="477.50" x2="317.70" y2="490.40" stroke="#303335" stroke-width="1.3"/>
<rect x="288.80" y="429.00" width="57.80" height="48.50" fill="#fff" stroke="#303335" stroke-width="1.45" stroke-linejoin="round"/>
<line x1="288.80" y1="456.40" x2="346.60" y2="456.40" stroke="#303335" stroke-width="2.6"/>
<line x1="394.60" y1="371.00" x2="394.60" y2="430.80" stroke="#303335" stroke-width="1.3"/>
<line x1="394.60" y1="471.90" x2="394.60" y2="490.40" stroke="#303335" stroke-width="1.3"/>
<rect x="365.65" y="430.80" width="57.90" height="41.10" fill="#fff" stroke="#303335" stroke-width="1.45" stroke-linejoin="round"/>
<line x1="365.65" y1="456.40" x2="423.55" y2="456.40" stroke="#303335" stroke-width="2.6"/>
<rect x="272.00" y="336.60" width="168.30" height="160.70" fill="none" stroke="#333333" stroke-width="1.07"/>
<line x1="270.00" y1="491.00" x2="272.00" y2="491.00" stroke="#333333" stroke-width="1.07"/>
<text x="269.30" y="494.00" text-anchor="end" font-size="8.4" fill="#111111" stroke="#111111">0</text>
<line x1="270.00" y1="441.75" x2="272.00" y2="441.75" stroke="#333333" stroke-width="1.07"/>
<text x="269.30" y="444.75" text-anchor="end" font-size="8.4" fill="#111111" stroke="#111111">10</text>
<line x1="270.00" y1="392.50" x2="272.00" y2="392.50" stroke="#333333" stroke-width="1.07"/>
<text x="269.30" y="395.50" text-anchor="end" font-size="8.4" fill="#111111" stroke="#111111">20</text>
<line x1="270.00" y1="343.25" x2="272.00" y2="343.25" stroke="#333333" stroke-width="1.07"/>
<text x="269.30" y="346.25" text-anchor="end" font-size="8.4" fill="#111111" stroke="#111111">30</text>
<text x="318.90" y="331.00" text-anchor="middle" font-size="8.6" fill="#111111" stroke="#111111">N=26,490</text>
<text x="393.60" y="331.00" text-anchor="middle" font-size="8.6" fill="#111111" stroke="#111111">N=5,103</text>
<text x="317.90" y="506.90" text-anchor="middle" font-size="8.6" fill="#111111" stroke="#111111">Negative</text>
<text x="394.70" y="506.90" text-anchor="middle" font-size="8.6" fill="#111111" stroke="#111111">Positive</text>
<text x="356.30" y="516.20" text-anchor="middle" font-size="8.85" fill="#111111" stroke="#111111">CDKN2A Deletion Status</text>
<text x="255.90" y="416.90" text-anchor="middle" transform="rotate(-90 255.90 416.90)" font-size="8.85" fill="#111111" stroke="#111111">TMB (Mut/Mb)</text>
<text x="476.20" y="329.90" font-weight="bold" font-size="18" fill="#111">e</text>
<line x1="509.50" y1="470.96" x2="613.00" y2="470.96" stroke="#E9E9E9" stroke-width="0.85"/>
<line x1="509.50" y1="434.29" x2="613.00" y2="434.29" stroke="#E9E9E9" stroke-width="0.85"/>
<line x1="509.50" y1="397.61" x2="613.00" y2="397.61" stroke="#E9E9E9" stroke-width="0.85"/>
<line x1="509.50" y1="360.94" x2="613.00" y2="360.94" stroke="#E9E9E9" stroke-width="0.85"/>
<line x1="509.50" y1="489.30" x2="613.00" y2="489.30" stroke="#E9E9E9" stroke-width="1.2"/>
<line x1="509.50" y1="452.62" x2="613.00" y2="452.62" stroke="#E9E9E9" stroke-width="1.2"/>
<line x1="509.50" y1="415.95" x2="613.00" y2="415.95" stroke="#E9E9E9" stroke-width="1.2"/>
<line x1="509.50" y1="379.28" x2="613.00" y2="379.28" stroke="#E9E9E9" stroke-width="1.2"/>
<line x1="509.50" y1="342.60" x2="613.00" y2="342.60" stroke="#E9E9E9" stroke-width="1.2"/>
<line x1="537.70" y1="335.50" x2="537.70" y2="496.40" stroke="#E9E9E9" stroke-width="1.2"/>
<line x1="584.70" y1="335.50" x2="584.70" y2="496.40" stroke="#E9E9E9" stroke-width="1.2"/>
<rect x="516.55" y="439.35" width="42.30" height="49.95" fill="#4C4D4F"/>
<rect x="516.55" y="398.35" width="42.30" height="41.00" fill="#8D8E90"/>
<rect x="516.55" y="342.60" width="42.30" height="55.75" fill="#DDDDDD"/>
<rect x="563.55" y="445.00" width="42.30" height="44.30" fill="#4C4D4F"/>
<rect x="563.55" y="406.49" width="42.30" height="38.51" fill="#8D8E90"/>
<rect x="563.55" y="342.60" width="42.30" height="63.89" fill="#DDDDDD"/>
<rect x="509.50" y="335.50" width="103.50" height="160.90" fill="none" stroke="#333333" stroke-width="1.07"/>
<line x1="507.50" y1="489.30" x2="509.50" y2="489.30" stroke="#333333" stroke-width="1.07"/>
<text x="506.40" y="492.30" text-anchor="end" font-size="8.4" fill="#111111" stroke="#111111">0.00</text>
<line x1="507.50" y1="452.62" x2="509.50" y2="452.62" stroke="#333333" stroke-width="1.07"/>
<text x="506.40" y="455.62" text-anchor="end" font-size="8.4" fill="#111111" stroke="#111111">0.25</text>
<line x1="507.50" y1="415.95" x2="509.50" y2="415.95" stroke="#333333" stroke-width="1.07"/>
<text x="506.40" y="418.95" text-anchor="end" font-size="8.4" fill="#111111" stroke="#111111">0.50</text>
<line x1="507.50" y1="379.28" x2="509.50" y2="379.28" stroke="#333333" stroke-width="1.07"/>
<text x="506.40" y="382.28" text-anchor="end" font-size="8.4" fill="#111111" stroke="#111111">0.75</text>
<line x1="507.50" y1="342.60" x2="509.50" y2="342.60" stroke="#333333" stroke-width="1.07"/>
<text x="506.40" y="345.60" text-anchor="end" font-size="8.4" fill="#111111" stroke="#111111">1.00</text>
<text x="534.90" y="331.00" text-anchor="middle" font-size="8.6" fill="#111111" stroke="#111111">N=9,023</text>
<text x="581.40" y="331.00" text-anchor="middle" font-size="8.6" fill="#111111" stroke="#111111">N=2,028</text>
<text x="535.10" y="506.20" text-anchor="middle" font-size="8.6" fill="#111111" stroke="#111111">Negative</text>
<text x="578.90" y="506.20" text-anchor="middle" font-size="8.6" fill="#111111" stroke="#111111">Positive</text>
<text x="557.00" y="514.80" text-anchor="middle" font-size="8.85" fill="#111111" stroke="#111111">CDKN2A Deletion Status</text>
<text x="486.40" y="415.90" text-anchor="middle" transform="rotate(-90 486.40 415.90)" font-size="8.85" fill="#111111" stroke="#111111">Frequency</text>
<text x="622.30" y="404.50" font-size="8.75" fill="#111111" stroke="#111111">PD−L1 Status</text>
<rect x="622.20" y="410.10" width="8.10" height="7.70" fill="#DDDDDD"/>
<rect x="622.20" y="418.80" width="8.10" height="7.40" fill="#8D8E90"/>
<rect x="622.20" y="427.00" width="8.10" height="8.00" fill="#4C4D4F"/>
<text x="635.20" y="416.90" font-size="8.75" fill="#111111" stroke="#111111">Negative</text>
<text x="635.20" y="425.40" font-size="8.75" fill="#111111" stroke="#111111">Positive-low</text>
<text x="635.20" y="433.60" font-size="8.75" fill="#111111" stroke="#111111">Positive-high</text>
<text x="-0.60" y="540.80" font-weight="bold" font-size="18" fill="#111">f</text>
<line x1="39.50" y1="680.44" x2="143.30" y2="680.44" stroke="#E9E9E9" stroke-width="0.85"/>
<line x1="39.50" y1="643.71" x2="143.30" y2="643.71" stroke="#E9E9E9" stroke-width="0.85"/>
<line x1="39.50" y1="606.99" x2="143.30" y2="606.99" stroke="#E9E9E9" stroke-width="0.85"/>
<line x1="39.50" y1="570.26" x2="143.30" y2="570.26" stroke="#E9E9E9" stroke-width="0.85"/>
<line x1="39.50" y1="698.80" x2="143.30" y2="698.80" stroke="#E9E9E9" stroke-width="1.2"/>
<line x1="39.50" y1="662.07" x2="143.30" y2="662.07" stroke="#E9E9E9" stroke-width="1.2"/>
<line x1="39.50" y1="625.35" x2="143.30" y2="625.35" stroke="#E9E9E9" stroke-width="1.2"/>
<line x1="39.50" y1="588.62" x2="143.30" y2="588.62" stroke="#E9E9E9" stroke-width="1.2"/>
<line x1="39.50" y1="551.90" x2="143.30" y2="551.90" stroke="#E9E9E9" stroke-width="1.2"/>
<line x1="67.40" y1="544.60" x2="67.40" y2="705.70" stroke="#E9E9E9" stroke-width="1.2"/>
<line x1="115.50" y1="544.60" x2="115.50" y2="705.70" stroke="#E9E9E9" stroke-width="1.2"/>
<rect x="45.95" y="627.11" width="42.90" height="71.69" fill="#8D8E90"/>
<rect x="45.95" y="551.90" width="42.90" height="75.21" fill="#DDDDDD"/>
<rect x="94.05" y="634.53" width="42.90" height="64.27" fill="#8D8E90"/>
<rect x="94.05" y="551.90" width="42.90" height="82.63" fill="#DDDDDD"/>
<rect x="39.50" y="544.60" width="103.80" height="161.10" fill="none" stroke="#333333" stroke-width="1.07"/>
<line x1="37.50" y1="698.80" x2="39.50" y2="698.80" stroke="#333333" stroke-width="1.07"/>
<text x="36.40" y="701.80" text-anchor="end" font-size="8.4" fill="#111111" stroke="#111111">0.00</text>
<line x1="37.50" y1="662.07" x2="39.50" y2="662.07" stroke="#333333" stroke-width="1.07"/>
<text x="36.40" y="665.07" text-anchor="end" font-size="8.4" fill="#111111" stroke="#111111">0.25</text>
<line x1="37.50" y1="625.35" x2="39.50" y2="625.35" stroke="#333333" stroke-width="1.07"/>
<text x="36.40" y="628.35" text-anchor="end" font-size="8.4" fill="#111111" stroke="#111111">0.50</text>
<line x1="37.50" y1="588.62" x2="39.50" y2="588.62" stroke="#333333" stroke-width="1.07"/>
<text x="36.40" y="591.62" text-anchor="end" font-size="8.4" fill="#111111" stroke="#111111">0.75</text>
<line x1="37.50" y1="551.90" x2="39.50" y2="551.90" stroke="#333333" stroke-width="1.07"/>
<text x="36.40" y="554.90" text-anchor="end" font-size="8.4" fill="#111111" stroke="#111111">1.00</text>
<text x="67.90" y="540.80" text-anchor="middle" font-size="8.6" fill="#111111" stroke="#111111">N=41</text>
<text x="115.60" y="540.80" text-anchor="middle" font-size="8.6" fill="#111111" stroke="#111111">N=41</text>
<text x="67.50" y="715.00" text-anchor="middle" font-size="8.6" fill="#111111" stroke="#111111">Negative</text>
<text x="115.50" y="715.00" text-anchor="middle" font-size="8.6" fill="#111111" stroke="#111111">Positive</text>
<text x="91.40" y="725.00" text-anchor="middle" font-size="8.85" fill="#111111" stroke="#111111">CDKN2A Deletion Status</text>
<text x="15.80" y="625.10" text-anchor="middle" transform="rotate(-90 15.80 625.10)" font-size="8.85" fill="#111111" stroke="#111111">Frequency</text>
<text x="152.00" y="613.40" font-size="8.75" fill="#111111" stroke="#111111">Immune</text>
<text x="152.00" y="622.80" font-size="8.75" fill="#111111" stroke="#111111">status</text>
<rect x="152.20" y="628.20" width="7.90" height="7.80" fill="#DDDDDD"/>
<rect x="152.20" y="636.90" width="7.90" height="8.00" fill="#8D8E90"/>
<text x="164.70" y="635.40" font-size="8.75" fill="#111111" stroke="#111111">Cold</text>
<text x="164.70" y="643.60" font-size="8.75" fill="#111111" stroke="#111111">Hot</text>
<text x="238.20" y="540.80" font-weight="bold" font-size="18" fill="#111">g</text>
<line x1="278.80" y1="682.69" x2="383.10" y2="682.69" stroke="#E9E9E9" stroke-width="0.85"/>
<line x1="278.80" y1="646.06" x2="383.10" y2="646.06" stroke="#E9E9E9" stroke-width="0.85"/>
<line x1="278.80" y1="609.44" x2="383.10" y2="609.44" stroke="#E9E9E9" stroke-width="0.85"/>
<line x1="278.80" y1="572.81" x2="383.10" y2="572.81" stroke="#E9E9E9" stroke-width="0.85"/>
<line x1="278.80" y1="701.00" x2="383.10" y2="701.00" stroke="#E9E9E9" stroke-width="1.2"/>
<line x1="278.80" y1="664.38" x2="383.10" y2="664.38" stroke="#E9E9E9" stroke-width="1.2"/>
<line x1="278.80" y1="627.75" x2="383.10" y2="627.75" stroke="#E9E9E9" stroke-width="1.2"/>
<line x1="278.80" y1="591.12" x2="383.10" y2="591.12" stroke="#E9E9E9" stroke-width="1.2"/>
<line x1="278.80" y1="554.50" x2="383.10" y2="554.50" stroke="#E9E9E9" stroke-width="1.2"/>
<line x1="307.30" y1="547.00" x2="307.30" y2="707.80" stroke="#E9E9E9" stroke-width="1.2"/>
<line x1="354.60" y1="547.00" x2="354.60" y2="707.80" stroke="#E9E9E9" stroke-width="1.2"/>
<rect x="285.85" y="647.23" width="42.90" height="53.77" fill="#8D8E90"/>
<rect x="285.85" y="554.50" width="42.90" height="92.73" fill="#DDDDDD"/>
<rect x="333.15" y="612.07" width="42.90" height="88.93" fill="#8D8E90"/>
<rect x="333.15" y="554.50" width="42.90" height="57.57" fill="#DDDDDD"/>
<rect x="278.80" y="547.00" width="104.30" height="160.80" fill="none" stroke="#333333" stroke-width="1.07"/>
<line x1="276.80" y1="701.00" x2="278.80" y2="701.00" stroke="#333333" stroke-width="1.07"/>
<text x="275.40" y="704.00" text-anchor="end" font-size="8.4" fill="#111111" stroke="#111111">0.00</text>
<line x1="276.80" y1="664.38" x2="278.80" y2="664.38" stroke="#333333" stroke-width="1.07"/>
<text x="275.40" y="667.38" text-anchor="end" font-size="8.4" fill="#111111" stroke="#111111">0.25</text>
<line x1="276.80" y1="627.75" x2="278.80" y2="627.75" stroke="#333333" stroke-width="1.07"/>
<text x="275.40" y="630.75" text-anchor="end" font-size="8.4" fill="#111111" stroke="#111111">0.50</text>
<line x1="276.80" y1="591.12" x2="278.80" y2="591.12" stroke="#333333" stroke-width="1.07"/>
<text x="275.40" y="594.12" text-anchor="end" font-size="8.4" fill="#111111" stroke="#111111">0.75</text>
<line x1="276.80" y1="554.50" x2="278.80" y2="554.50" stroke="#333333" stroke-width="1.07"/>
<text x="275.40" y="557.50" text-anchor="end" font-size="8.4" fill="#111111" stroke="#111111">1.00</text>
<text x="307.25" y="542.60" text-anchor="middle" font-size="8.6" fill="#111111" stroke="#111111">N=49</text>
<text x="354.90" y="542.60" text-anchor="middle" font-size="8.6" fill="#111111" stroke="#111111">N=33</text>
<text x="306.80" y="717.00" text-anchor="middle" font-size="8.6" fill="#111111" stroke="#111111">Negative</text>
<text x="354.50" y="717.00" text-anchor="middle" font-size="8.6" fill="#111111" stroke="#111111">Positive</text>
<text x="330.60" y="726.60" text-anchor="middle" font-size="8.85" fill="#111111" stroke="#111111">PD−L1 Status</text>
<text x="255.40" y="627.10" text-anchor="middle" transform="rotate(-90 255.40 627.10)" font-size="8.85" fill="#111111" stroke="#111111">Frequency</text>
<text x="391.70" y="615.50" font-size="8.75" fill="#111111" stroke="#111111">Immune</text>
<text x="391.70" y="624.80" font-size="8.75" fill="#111111" stroke="#111111">status</text>
<rect x="391.90" y="630.30" width="8.10" height="7.80" fill="#DDDDDD"/>
<rect x="391.90" y="639.00" width="8.10" height="7.80" fill="#8D8E90"/>
<text x="404.60" y="637.30" font-size="8.75" fill="#111111" stroke="#111111">Cold</text>
<text x="404.60" y="645.60" font-size="8.75" fill="#111111" stroke="#111111">Hot</text>
</svg>
</body></html>
